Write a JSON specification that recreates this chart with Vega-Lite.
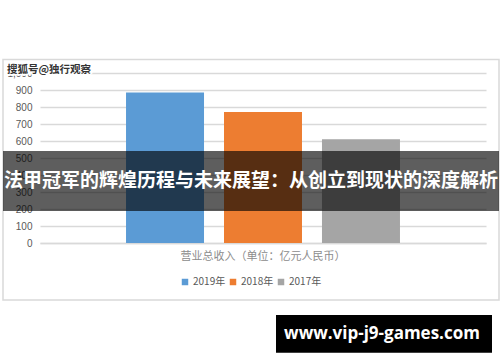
{
  "$schema": "https://vega.github.io/schema/vega-lite/v6.json",
  "width": 446,
  "height": 170,
  "autosize": {"type": "none"},
  "padding": {"left": 40, "top": 73, "right": 14, "bottom": 119},
  "background": "white",
  "config": {
    "view": {"stroke": null},
    "font": "Noto Sans CJK SC"
  },
  "resolve": {"axis": {"y": "independent"}},
  "layer": [
    {
      "data": {"values": [{}]},
      "mark": {"type": "rect", "fill": null, "stroke": "#d9d9d9", "strokeWidth": 1.5, "clip": false},
      "encoding": {
        "x": {"value": -37},
        "x2": {"value": 459},
        "y": {"datum": 1079, "axis": null},
        "y2": {"datum": -335}
      }
    },
    {
      "data": {
        "values": [
          {"category": "营业总收入（单位：亿元人民币）", "year": "2019年", "value": 886},
          {"category": "营业总收入（单位：亿元人民币）", "year": "2018年", "value": 771},
          {"category": "营业总收入（单位：亿元人民币）", "year": "2017年", "value": 610}
        ]
      },
      "mark": {"type": "bar"},
      "encoding": {
        "x": {
          "field": "category",
          "type": "nominal",
          "scale": {"paddingInner": 0, "paddingOuter": 0},
          "axis": {
            "title": null,
            "ticks": false,
            "domainColor": "#d9d9d9",
            "domainWidth": 1.5,
            "labelColor": "#8c8c8c",
            "labelFontSize": 11,
            "labelPadding": 7,
            "labelAngle": 0
          }
        },
        "xOffset": {
          "field": "year",
          "type": "nominal",
          "sort": ["2019年", "2018年", "2017年"],
          "scale": {"paddingInner": 0.204, "paddingOuter": 0.878}
        },
        "y": {
          "field": "value",
          "type": "quantitative",
          "scale": {"domain": [0, 1000], "nice": false},
          "axis": {
            "title": null,
            "values": [0, 100, 200, 300, 400, 500, 600, 700, 800, 900, 1000],
            "labelOverlap": false,
            "labelFlush": false,
            "domain": false,
            "ticks": false,
            "labelPadding": 8,
            "labelColor": "#595959",
            "labelFontSize": 10,
            "labelFont": "Liberation Sans",
            "grid": true,
            "gridColor": "#d9d9d9",
            "gridWidth": 1.5
          }
        },
        "color": {
          "field": "year",
          "type": "nominal",
          "sort": ["2019年", "2018年", "2017年"],
          "scale": {"range": ["#5b9bd5", "#ed7d31", "#a5a5a5"]},
          "legend": {
            "title": null,
            "orient": "none",
            "legendX": 140,
            "legendY": 204,
            "direction": "horizontal",
            "symbolType": "square",
            "symbolSize": 42,
            "symbolStrokeWidth": 0,
            "labelFontSize": 10,
            "labelColor": "#595959",
            "labelOffset": 3,
            "columnPadding": 2
          }
        }
      }
    },
    {
      "data": {"values": [{}]},
      "mark": {"type": "rect", "fill": "black", "opacity": 0.63, "clip": false},
      "encoding": {
        "x": {"value": -37},
        "x2": {"value": 459},
        "y": {"datum": 541, "axis": null},
        "y2": {"datum": 188}
      }
    },
    {
      "data": {"values": [{}]},
      "mark": {
        "type": "text",
        "text": "法甲冠军的辉煌历程与未来展望：从创立到现状的深度解析",
        "color": "white",
        "fontSize": 19,
        "fontWeight": "bold",
        "font": "Noto Sans CJK SC",
        "align": "center",
        "baseline": "middle"
      },
      "encoding": {
        "x": {"value": 211},
        "y": {"datum": 365, "axis": null}
      }
    },
    {
      "data": {"values": [{}]},
      "mark": {
        "type": "text",
        "text": "搜狐号@独行观察",
        "color": "white",
        "stroke": "white",
        "strokeWidth": 3,
        "fontSize": 10.5,
        "fontWeight": "bold",
        "font": "Noto Sans CJK SC",
        "align": "left",
        "baseline": "middle"
      },
      "encoding": {
        "x": {"value": -33},
        "y": {"datum": 1015, "axis": null}
      }
    },
    {
      "data": {"values": [{}]},
      "mark": {
        "type": "text",
        "text": "搜狐号@独行观察",
        "color": "#333333",
        "fontSize": 10.5,
        "fontWeight": "bold",
        "font": "Noto Sans CJK SC",
        "align": "left",
        "baseline": "middle"
      },
      "encoding": {
        "x": {"value": -33},
        "y": {"datum": 1015, "axis": null}
      }
    },
    {
      "data": {"values": [{}]},
      "mark": {"type": "rect", "fill": "black", "clip": false},
      "encoding": {
        "x": {"value": 236},
        "x2": {"value": 452},
        "y": {"datum": -424, "axis": null},
        "y2": {"datum": -645}
      }
    },
    {
      "data": {"values": [{}]},
      "mark": {
        "type": "text",
        "text": "www.vip-j9-games.com",
        "color": "white",
        "fontSize": 17,
        "fontWeight": "bold",
        "font": "Open Sans",
        "align": "center",
        "baseline": "middle"
      },
      "encoding": {
        "x": {"value": 342},
        "y": {"datum": -535, "axis": null}
      }
    }
  ]
}
